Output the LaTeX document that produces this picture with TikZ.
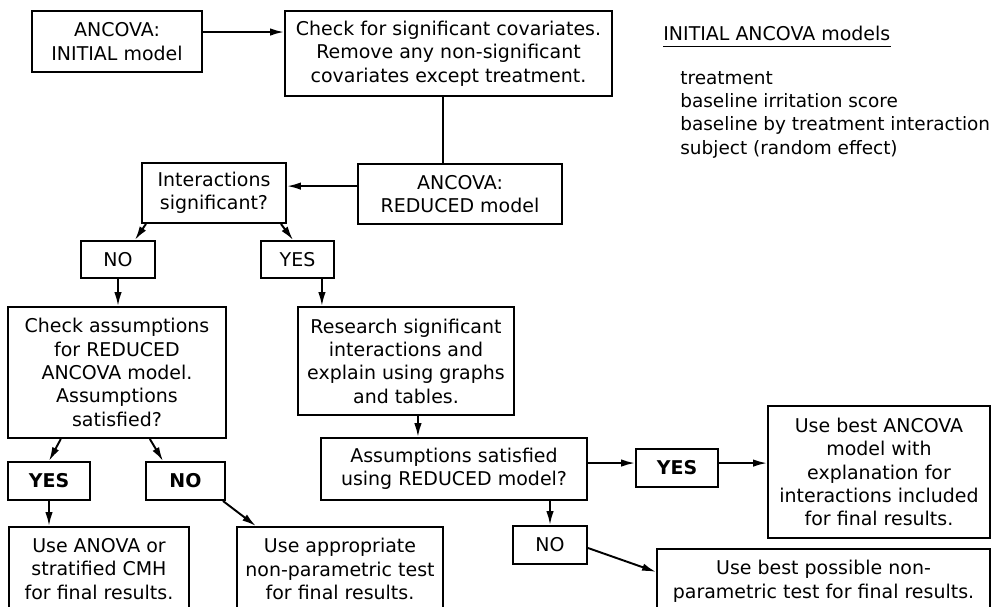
\documentclass[tikz,border=0pt]{standalone}
\usepackage{fontspec}
\setmainfont{DejaVu Sans}
\usetikzlibrary{arrows.meta}
\begin{document}
\begin{tikzpicture}[x=0.02cm, y=-0.02cm,
  font=\fontsize{10.8}{13.3}\selectfont,
  box/.style={draw, line width=1.1pt, align=center, inner sep=0pt},
  cutbox/.style={draw, line width=1.1pt, align=center, inner xsep=0pt, inner ysep=6.4pt, text depth=20pt, anchor=north},
  arr/.style={line width=1.1pt, -{Latex[length=2.8mm,width=1.5mm]}}]
\useasboundingbox (0,0) rectangle (993,606);
\clip (0,0) rectangle (993,606);
\node[box, minimum width=3.4cm, minimum height=1.22cm] (init) at (117,41.5) {ANCOVA:\\INITIAL model};
\node[box, minimum width=6.54cm, minimum height=1.7cm] (chk) at (448.5,53.5) {Check for significant covariates.\\Remove any non-significant\\covariates except treatment.};
\node[box, minimum width=4.08cm, minimum height=1.2cm] (red) at (460,194) {ANCOVA:\\REDUCED model};
\node[box, minimum width=2.88cm, minimum height=1.2cm] (inter) at (214,193) {Interactions\\significant?};
\node[box, minimum width=1.48cm, minimum height=0.74cm] (no1) at (118,259.5) {NO};
\node[box, minimum width=1.46cm, minimum height=0.74cm] (yes1) at (297.5,259.5) {YES};
\node[box, minimum width=4.36cm, minimum height=2.62cm] (cka) at (117,372.5) {Check assumptions\\for REDUCED\\ANCOVA model.\\Assumptions\\satisfied?};
\node[box, minimum width=4.32cm, minimum height=2.16cm] (res) at (406,361) {Research significant\\interactions and\\explain using graphs\\and tables.};
\node[box, minimum width=5.32cm, minimum height=1.24cm] (asm) at (454,469) {Assumptions satisfied\\using REDUCED model?};
\node[box, minimum width=1.64cm, minimum height=0.76cm, font=\fontsize{10.8}{13.3}\selectfont\bfseries] (yes2) at (677,468) {YES};
\node[box, minimum width=4.44cm, minimum height=2.64cm] (fin) at (879,472) {Use best ANCOVA\\model with\\explanation for\\interactions included\\for final results.};
\node[box, minimum width=1.48cm, minimum height=0.76cm] (no2) at (550,545) {NO};
\node[box, minimum width=1.64cm, minimum height=0.76cm, font=\fontsize{10.8}{13.3}\selectfont\bfseries] (yes3) at (49,481) {YES};
\node[box, minimum width=1.58cm, minimum height=0.76cm, font=\fontsize{10.8}{13.3}\selectfont\bfseries] (no3) at (185.5,481) {NO};
\node[cutbox, minimum width=3.6cm] (anova) at (99,526) {Use ANOVA or\\stratified CMH\\for final results.};
\node[cutbox, minimum width=4.12cm] (appr) at (340,526) {Use appropriate\\non-parametric test\\for final results.};
\node[cutbox, minimum width=6.66cm] (best) at (823.5,548) {Use best possible non-\\parametric test for final results.};
\node[anchor=base west, inner xsep=0pt, inner ysep=3.4pt] (ttl) at (663,40) {INITIAL ANCOVA models};
\draw[line width=0.8pt] (ttl.south west) -- (ttl.south east);
\node[anchor=west, align=left, inner sep=0pt, font=\fontsize{10.5}{13.3}\selectfont] (lst) at (680,114.5) {treatment\\baseline irritation score\\baseline by treatment interaction\\subject (random effect)};
\draw[arr] ([yshift=5.4pt]init.east) -- ([yshift=5.4pt]init.east -| chk.west);
\draw[line width=1.1pt] ([xshift=-3pt]chk.south) -- ([xshift=-3pt]chk.south |- red.north);
\draw[arr] ([yshift=4.5pt]red.west) -- ([yshift=4.5pt]red.west -| inter.east);
\draw[arr] ([xshift=2.8pt]inter.south west) -- ([xshift=9.6pt]no1.north);
\draw[arr] ([xshift=-3.4pt]inter.south east) -- ([xshift=-2.5pt]yes1.north);
\draw[arr] (no1.south) -- (no1.south |- cka.north);
\draw[arr] ([xshift=13.9pt]yes1.south) -- ([xshift=13.9pt]yes1.south |- res.north);
\draw[arr] ([xshift=6.8pt]res.south) -- ([xshift=6.8pt]res.south |- asm.north);
\draw[arr] ([yshift=3.4pt]asm.east) -- ([yshift=3.4pt]asm.east -| yes2.west);
\draw[arr] ([yshift=2.8pt]yes2.east) -- ([yshift=2.8pt]yes2.east -| fin.west);
\draw[arr] (no2.north |- asm.south) -- (no2.north);
\draw[arr] ([yshift=-1.7pt]no2.east) -- ([yshift=-13.6pt]best.north west);
\draw[arr] ([xshift=30.6pt]cka.south west) -- (yes3.north);
\draw[arr] ([xshift=18.7pt]cka.south) -- ([xshift=-12.8pt]no3.north);
\draw[arr] (yes3.south) -- (yes3.south |- anova.north);
\draw[arr] ([xshift=-1.7pt]no3.south east) -- ([xshift=11.3pt]appr.north west);
\end{tikzpicture}
\end{document}
